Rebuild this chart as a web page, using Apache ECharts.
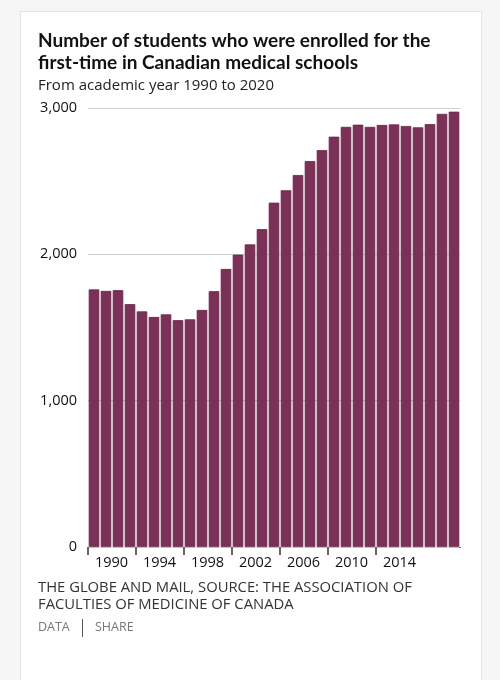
<!DOCTYPE html>
<html lang="en">
<head>
    <meta charset="UTF-8">
    <title>First-time enrolment, Canadian medical schools</title>
    <script src="https://cdn.jsdelivr.net/npm/echarts@6/dist/echarts.min.js"></script>
    <style>
        html, body {
            margin: 0;
            padding: 0;
            background: #f6f6f6;
        }
        #card {
            position: absolute;
            left: 20px;
            top: 11px;
            width: 460px;
            height: 720px;
            background: #fff;
            border: 1px solid #e4e4e4;
        }
        #main {
            position: absolute;
            left: 0;
            top: 0;
            width: 500px;
            height: 680px;
        }
    </style>
</head>
<body>
<div id="card"></div>
<div id="main"></div>

<script>
    // academic years, 1990 to 2020
    var years = [
        '1990', '1991', '1992', '1993', '1994', '1995', '1996', '1997',
        '1998', '1999', '2000', '2001', '2002', '2003', '2004', '2005',
        '2006', '2007', '2008', '2009', '2010', '2011', '2012', '2013',
        '2014', '2015', '2016', '2017', '2018', '2019', '2020'
    ];
    // first-time enrolled students
    var students = [
        1760, 1750, 1755, 1660, 1610, 1572, 1590, 1550,
        1556, 1620, 1748, 1900, 1998, 2068, 2172, 2353,
        2438, 2542, 2637, 2712, 2804, 2871, 2886, 2871,
        2884, 2888, 2877, 2868, 2890, 2960, 2975
    ];
    var yTicks = [0, 1000, 2000, 3000];

    var titleText = 'Number of students who were enrolled for the\nfirst-time in Canadian medical schools';
    var subText = 'From academic year 1990 to 2020';
    var sourceText = 'THE GLOBE AND MAIL, SOURCE: THE ASSOCIATION OF\nFACULTIES OF MEDICINE OF CANADA';

    // every 4th year gets a tick and a label, up to 2014
    function everyFourth(index) {
        return index % 4 === 0 && index <= 24;
    }

    var myChart = echarts.init(document.getElementById('main'));

    var option = {
        animation: false,
        title: [
            {
                text: titleText,
                left: 38,
                top: 30,
                padding: 0,
                textStyle: {
                    fontFamily: 'Lato',
                    fontWeight: 'bold',
                    fontSize: 19,
                    lineHeight: 22,
                    color: '#111'
                }
            },
            {
                text: subText,
                left: 38,
                top: 78,
                padding: 0,
                textStyle: {
                    fontFamily: 'Open Sans',
                    fontWeight: 'normal',
                    fontSize: 15,
                    color: '#222'
                }
            },
            {
                text: sourceText,
                left: 38,
                top: 579,
                padding: 0,
                textStyle: {
                    fontFamily: 'Open Sans',
                    fontWeight: 'normal',
                    fontSize: 14.8,
                    lineHeight: 17,
                    color: '#333'
                }
            },
            {
                text: 'DATA',
                left: 38,
                top: 621,
                padding: 0,
                textStyle: {
                    fontFamily: 'Open Sans',
                    fontWeight: 'normal',
                    fontSize: 12.5,
                    color: '#777'
                }
            },
            {
                text: 'SHARE',
                left: 95,
                top: 621,
                padding: 0,
                textStyle: {
                    fontFamily: 'Open Sans',
                    fontWeight: 'normal',
                    fontSize: 12.5,
                    color: '#777'
                }
            }
        ],
        graphic: [
            {
                type: 'line',
                shape: {x1: 82.5, y1: 619, x2: 82.5, y2: 637},
                style: {stroke: '#555', lineWidth: 1}
            },
            // the category axis always adds a closing tick at the right end; the original has none
            {
                type: 'rect',
                z: 100,
                shape: {x: 457, y: 548, width: 6, height: 10},
                style: {fill: '#fff'}
            }
        ],
        grid: {
            left: 88,
            right: 40,
            top: 108,
            bottom: 133
        },
        xAxis: {
            type: 'category',
            data: years,
            boundaryGap: true,
            axisLine: {show: false},
            axisTick: {
                show: true,
                length: 8,
                alignWithLabel: false,
                interval: everyFourth,
                lineStyle: {color: '#333', width: 1.5}
            },
            axisLabel: {
                interval: everyFourth,
                align: 'left',
                padding: [0, 0, 0, 1],
                margin: 8,
                fontFamily: 'Open Sans',
                fontSize: 14.5,
                color: '#111'
            }
        },
        yAxis: {
            type: 'value',
            min: yTicks[0],
            max: yTicks[yTicks.length - 1],
            interval: 1000,
            axisLine: {show: false},
            axisTick: {show: false},
            splitLine: {lineStyle: {color: '#cfcfcf', width: 1}},
            axisLabel: {
                margin: 11,
                fontFamily: 'Open Sans',
                fontSize: 14.5,
                color: '#111',
                formatter: function (v) {
                    return v.toLocaleString('en-US');
                }
            }
        },
        series: [
            {
                type: 'bar',
                data: students,
                barCategoryGap: '12%',
                itemStyle: {
                    color: '#7b3157',
                    borderColor: '#6a2649',
                    borderWidth: 0.8
                }
            }
        ]
    };

    myChart.setOption(option);
</script>
</body>
</html>
